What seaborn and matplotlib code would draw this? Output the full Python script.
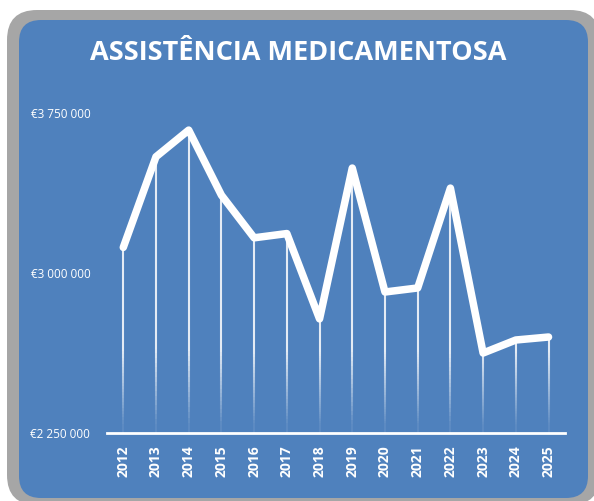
import matplotlib
matplotlib.use("Agg")
import matplotlib.pyplot as plt
import seaborn as sns
import numpy as np
import pandas as pd
from matplotlib.patches import FancyBboxPatch

# valores
anos = ["2012", "2013", "2014", "2015", "2016", "2017", "2018",
        "2019", "2020", "2021", "2022", "2023", "2024", "2025"]
valores = [3120000, 3545000, 3670000, 3365000, 3165000, 3185000, 2785000,
           3492000, 2911000, 2930000, 3398000, 2625000, 2686000, 2700000]
ticks_y = [2250000, 3000000, 3750000]
titulo = "ASSISTÊNCIA MEDICAMENTOSA"

azul = "#4f81bd"
cinza = "#a6a6a6"

sns.set_style("white")
plt.rcParams["font.family"] = ["Open Sans", "DejaVu Sans"]

fig = plt.figure(figsize=(5.94, 5.01), dpi=100)
fig.patch.set_facecolor("white")

# moldura arredondada
fig.patches.append(FancyBboxPatch((0.07, -0.04), 5.93, 4.95,
                                  boxstyle="round,pad=0,rounding_size=0.3",
                                  transform=fig.dpi_scale_trans,
                                  facecolor=cinza, edgecolor="none", zorder=-2))
fig.patches.append(FancyBboxPatch((0.19, 0.03), 5.69, 4.78,
                                  boxstyle="round,pad=0,rounding_size=0.22",
                                  transform=fig.dpi_scale_trans,
                                  facecolor=azul, edgecolor="none", zorder=-1))

ax = fig.add_axes([0.180, 0.1357, 0.771, 0.660])
ax.set_facecolor("none")

df = pd.DataFrame({"x": np.arange(len(anos)), "valor": valores})

# linhas verticais com degradê
ymin = ticks_y[0]
for xi, v in zip(df["x"], df["valor"]):
    ys = np.linspace(ymin, v, 60)
    for y0, y1 in zip(ys[:-1], ys[1:]):
        a = np.clip((y0 - ymin) / 450000, 0.08, 0.85)
        ax.plot([xi, xi], [y0, y1], color="white", alpha=a, lw=1.5,
                solid_capstyle="butt", zorder=2)

sns.lineplot(data=df, x="x", y="valor", ax=ax, color="white", lw=5.4,
             zorder=3, solid_joinstyle="round", solid_capstyle="round")

ax.set_xlim(-0.5, len(anos) - 0.5)
ax.set_ylim(2250000, 3800000)
ax.set_xticks(df["x"])
ax.set_xticklabels(anos, rotation=90, fontsize=10, fontweight="bold",
                   color="white")
ax.set_yticks(ticks_y)
ax.set_yticklabels(["€" + f"{t:,}".replace(",", " ") for t in ticks_y],
                   fontsize=8.5, color="white")
ax.tick_params(axis="y", length=0, pad=12)
ax.tick_params(axis="x", length=0, pad=9)
ax.set_xlabel("")
ax.set_ylabel("")

for s in ["top", "right", "left"]:
    ax.spines[s].set_visible(False)
ax.spines["bottom"].set_color("white")
ax.spines["bottom"].set_linewidth(2)
ax.spines["bottom"].set_zorder(4)

fig.text(0.502, 0.894, titulo, ha="center", va="center", color="white",
         fontsize=19.5, fontweight="bold")

fig.savefig("out.png", dpi=100, facecolor=fig.get_facecolor())
